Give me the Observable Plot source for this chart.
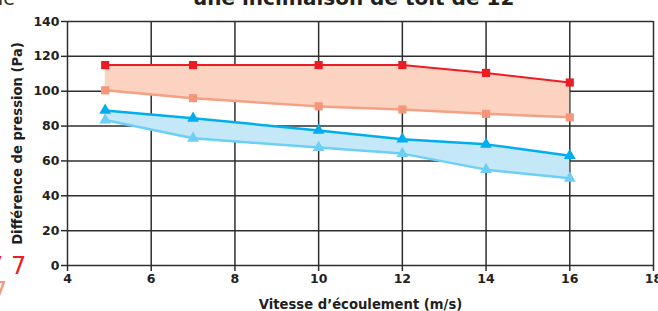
<!DOCTYPE html>
<html>
<head>
<meta charset="utf-8">
<script src="https://cdn.jsdelivr.net/npm/d3@7"></script>
<script src="https://cdn.jsdelivr.net/npm/@observablehq/plot@0.6"></script>
<style>
  html, body { margin: 0; padding: 0; background: #fff; }
  #wrap { position: relative; width: 658px; height: 311px; overflow: hidden; font-family: "DejaVu Sans", sans-serif; }
  #wrap svg { position: absolute; left: 0; top: 0; }
  .t { position: absolute; white-space: nowrap; line-height: 1; }
  .s { line-height: 20px; }
</style>
</head>
<body>
<div id="wrap">
  <div class="t" style="left:-2px; top:-11px; font-size:19px; color:#333;">le</div>
  <div class="t" style="left:193px; top:-12px; font-size:20px; font-weight:bold; color:#231f20;">une inclinaison de toit de 12</div>
  <div class="t s" style="left:-12px; top:256px; font-size:24px; color:#ed1c24;">7 7</div>
  <div class="t s" style="left:-8px; top:281px; font-size:24px; color:#f4977a;">7</div>
</div>
<script>
const speeds = [4.9, 7, 10, 12, 14, 16];
const redSquares = [115, 115, 115, 115, 110.5, 105];
const salmonSquares = [100.5, 96, 91.3, 89.5, 87, 85];
const blueTriangles = [89, 84.5, 77.5, 72.5, 69.5, 63];
const lightBlueTriangles = [83.5, 73, 67.7, 64.2, 55, 50];
const xTicks = [4, 6, 8, 10, 12, 14, 16, 18];
const yTicks = [0, 20, 40, 60, 80, 100, 120, 140];

const rows = speeds.map((s, i) => ({
  s, red: redSquares[i], salmon: salmonSquares[i], blue: blueTriangles[i], lblue: lightBlueTriangles[i]
}));

const chart = Plot.plot({
  width: 658,
  height: 311,
  marginLeft: 67,
  marginRight: 5,
  marginTop: 21,
  marginBottom: 46,
  style: { fontFamily: "'DejaVu Sans', sans-serif", background: "transparent", color: "#231f20" },
  x: { domain: [4, 18] },
  y: { domain: [0, 140] },
  marks: [
    Plot.ruleX(xTicks, { stroke: "#2e2e2e", strokeWidth: 1.5 }),
    Plot.ruleY(yTicks, { stroke: "#2e2e2e", strokeWidth: 1.5 }),
    Plot.areaY(rows, { x: "s", y1: "salmon", y2: "red", fill: "#fcd3c0" }),
    Plot.areaY(rows, { x: "s", y1: "lblue", y2: "blue", fill: "#c4e8f8" }),
    Plot.line(rows, { x: "s", y: "salmon", stroke: "#f5a084", strokeWidth: 2.5 }),
    Plot.line(rows, { x: "s", y: "red", stroke: "#ed1c24", strokeWidth: 2 }),
    Plot.line(rows, { x: "s", y: "lblue", stroke: "#6dcff6", strokeWidth: 2.5 }),
    Plot.line(rows, { x: "s", y: "blue", stroke: "#00aeef", strokeWidth: 2.5 }),
    Plot.dot(rows, { x: "s", y: "salmon", symbol: "square", r: 4.6, fill: "#f5967a" }),
    Plot.dot(rows, { x: "s", y: "red", symbol: "square", r: 4.6, fill: "#ed1c24" }),
    Plot.dot(rows, { x: "s", y: "lblue", symbol: "triangle", r: 4.4, fill: "#6dcff6" }),
    Plot.dot(rows, { x: "s", y: "blue", symbol: "triangle", r: 4.4, fill: "#00aeef" }),
    Plot.axisX({
      ticks: xTicks, tickSize: 6, tickPadding: 3, strokeWidth: 1.5, stroke: "#2e2e2e",
      fontSize: 12.5, fontWeight: "bold", fill: "#231f20",
      label: null
    }),
    Plot.axisX({
      ticks: [], tickSize: 0,
      fontSize: 13.2, fontWeight: "bold", fill: "#231f20",
      label: "Vitesse d’écoulement (m/s)", labelAnchor: "center", labelArrow: "none", labelOffset: 43
    }),
    Plot.axisY({
      ticks: yTicks, tickSize: 6, tickPadding: 2, strokeWidth: 1.5, stroke: "#2e2e2e",
      fontSize: 12.5, fontWeight: "bold", fill: "#231f20",
      label: null
    }),
    Plot.axisY({
      ticks: [], tickSize: 0,
      fontSize: 13.2, fontWeight: "bold", fill: "#231f20",
      label: "Différence de pression (Pa)", labelAnchor: "center", labelArrow: "none", labelOffset: 55
    })
  ]
});
document.getElementById("wrap").prepend(chart);
</script>
</body>
</html>
